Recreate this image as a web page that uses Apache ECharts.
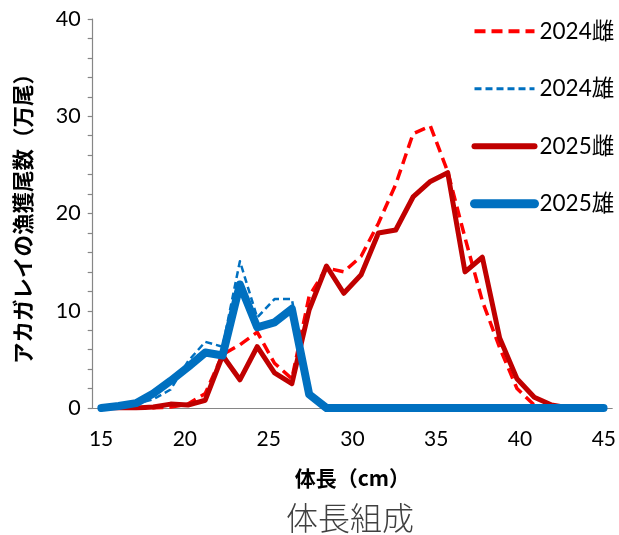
<!DOCTYPE html>
<html><head><meta charset="utf-8">
<script src="https://cdn.jsdelivr.net/npm/echarts@6/dist/echarts.min.js"></script>
<style>html,body{margin:0;padding:0;background:#fff}#c{width:619px;height:535px}</style>
</head><body><div id="c"></div>
<script>
// body length classes (cm) of the data series
const lengths = ['15','16','17','18','19','20','21','22','23','24','25','26','27','28','29','30','31','32','33','34','35','36','37','38','39','40','41','42','43','44'];
// tick labels of the horizontal axis
const tickLabels = ['15','16','17','18','19','20','21','22','23','24','25','26','27','28','29','30','31','32','33','34','35','36','37','38','39','40','41','42','43','44','45'];
// catch numbers (10,000 fish)
const f2024 = [0,0,0,0,0.1,0.4,1.5,5.5,6.5,7.8,4.6,3.0,11.5,14.4,14.0,15.6,19.0,23.0,28.2,29.0,24.3,17.5,11.0,6.2,2.0,0.3,0,0,0,0];
const m2024 = [0,0.1,0.4,0.9,1.9,4.8,6.8,6.3,15.1,9.3,11.2,11.2,1.5,0,0,0,0,0,0,0,0,0,0,0,0,0,0,0,0,0];
const f2025 = [0,0,0,0.1,0.4,0.3,0.8,5.4,2.9,6.3,3.6,2.5,10.1,14.6,11.8,13.7,18.0,18.3,21.7,23.3,24.2,14.0,15.5,7.2,3.0,1.1,0.3,0,0,0];
const m2025 = [0,0.2,0.5,1.5,2.8,4.2,5.7,5.4,12.7,8.3,8.8,10.2,1.4,0,0,0,0,0,0,0,0,0,0,0,0,0,0,0,0,0];
const yTicks = {min:0, max:40, interval:10};

const FONT = 'Lato, "Noto Sans CJK JP", sans-serif';
const JFONT = '"Noto Sans CJK JP", sans-serif';
const axisColor = '#868686';
const chart = echarts.init(document.getElementById('c'), null, {renderer:'canvas'});
chart.setOption({
  animation:false,
  backgroundColor:'#ffffff',
  title:{text:'体長組成', left:345, top:497, textAlign:'center',
    textStyle:{fontFamily:JFONT, fontSize:32, fontWeight:300, color:'#404040'}},
  legend:{orient:'vertical', left:470, top:20, padding:0, itemWidth:60, itemHeight:16, itemGap:35,
    textStyle:{fontFamily:FONT, fontSize:22.5, color:'#000'},
    itemStyle:{opacity:0},
    data:[
      {name:'2024雌', lineStyle:{width:4}},
      {name:'2024雄', lineStyle:{width:3}},
      {name:'2025雌', lineStyle:{width:6}},
      {name:'2025雄', lineStyle:{width:9}}
    ]},
  grid:{left:92.7, top:19, width:520.6, height:389},
  xAxis:[{
    type:'category', data:lengths, boundaryGap:true,
    axisLine:{lineStyle:{color:axisColor, width:1.2}},
    axisTick:{interval:0, length:5, lineStyle:{color:axisColor, width:1.2}},
    axisLabel:{show:false}, splitLine:{show:false}
  },{
    type:'category', data:tickLabels, boundaryGap:true, position:'bottom', gridIndex:0,
    axisLine:{show:false}, axisTick:{show:false},
    axisLabel:{interval:4, margin:21, fontFamily:FONT, fontSize:21, color:'#000'},
    name:'体長（cm）', nameLocation:'middle', nameGap:60,
    nameTextStyle:{fontFamily:JFONT, fontSize:21, fontWeight:'bold', color:'#000'}
  }],
  yAxis:{type:'value', min:yTicks.min, max:yTicks.max, interval:yTicks.interval,
    axisLine:{show:true, lineStyle:{color:axisColor, width:1.2}},
    axisTick:{show:true, length:5, lineStyle:{color:axisColor, width:1.2}},
    minorTick:{show:true, splitNumber:5, length:5, lineStyle:{color:axisColor, width:1.2}},
    splitLine:{show:false},
    axisLabel:{margin:12, fontFamily:FONT, fontSize:21.5, color:'#000'},
    name:'アカガレイの漁獲尾数（万尾）', nameLocation:'middle', nameGap:59,
    nameTextStyle:{fontFamily:JFONT, fontSize:21.5, fontWeight:'bold', color:'#000'}
  },
  series:[
    {name:'2024雌', type:'line', xAxisIndex:0, data:f2024, symbol:'none',
      lineStyle:{color:'#FF0000', width:3.5, type:[11,6], cap:'butt', join:'round'}, itemStyle:{color:'#FF0000'}},
    {name:'2024雄', type:'line', xAxisIndex:0, data:m2024, symbol:'none',
      lineStyle:{color:'#0070C0', width:2.5, type:[7,4], cap:'butt', join:'round'}, itemStyle:{color:'#0070C0'}},
    {name:'2025雌', type:'line', xAxisIndex:0, data:f2025, symbol:'none',
      lineStyle:{color:'#C00000', width:5, cap:'round', join:'round'}, itemStyle:{color:'#C00000'}},
    {name:'2025雄', type:'line', xAxisIndex:0, data:m2025, symbol:'none',
      lineStyle:{color:'#0070C0', width:8, cap:'round', join:'round'}, itemStyle:{color:'#0070C0'}}
  ]
});
</script></body></html>
